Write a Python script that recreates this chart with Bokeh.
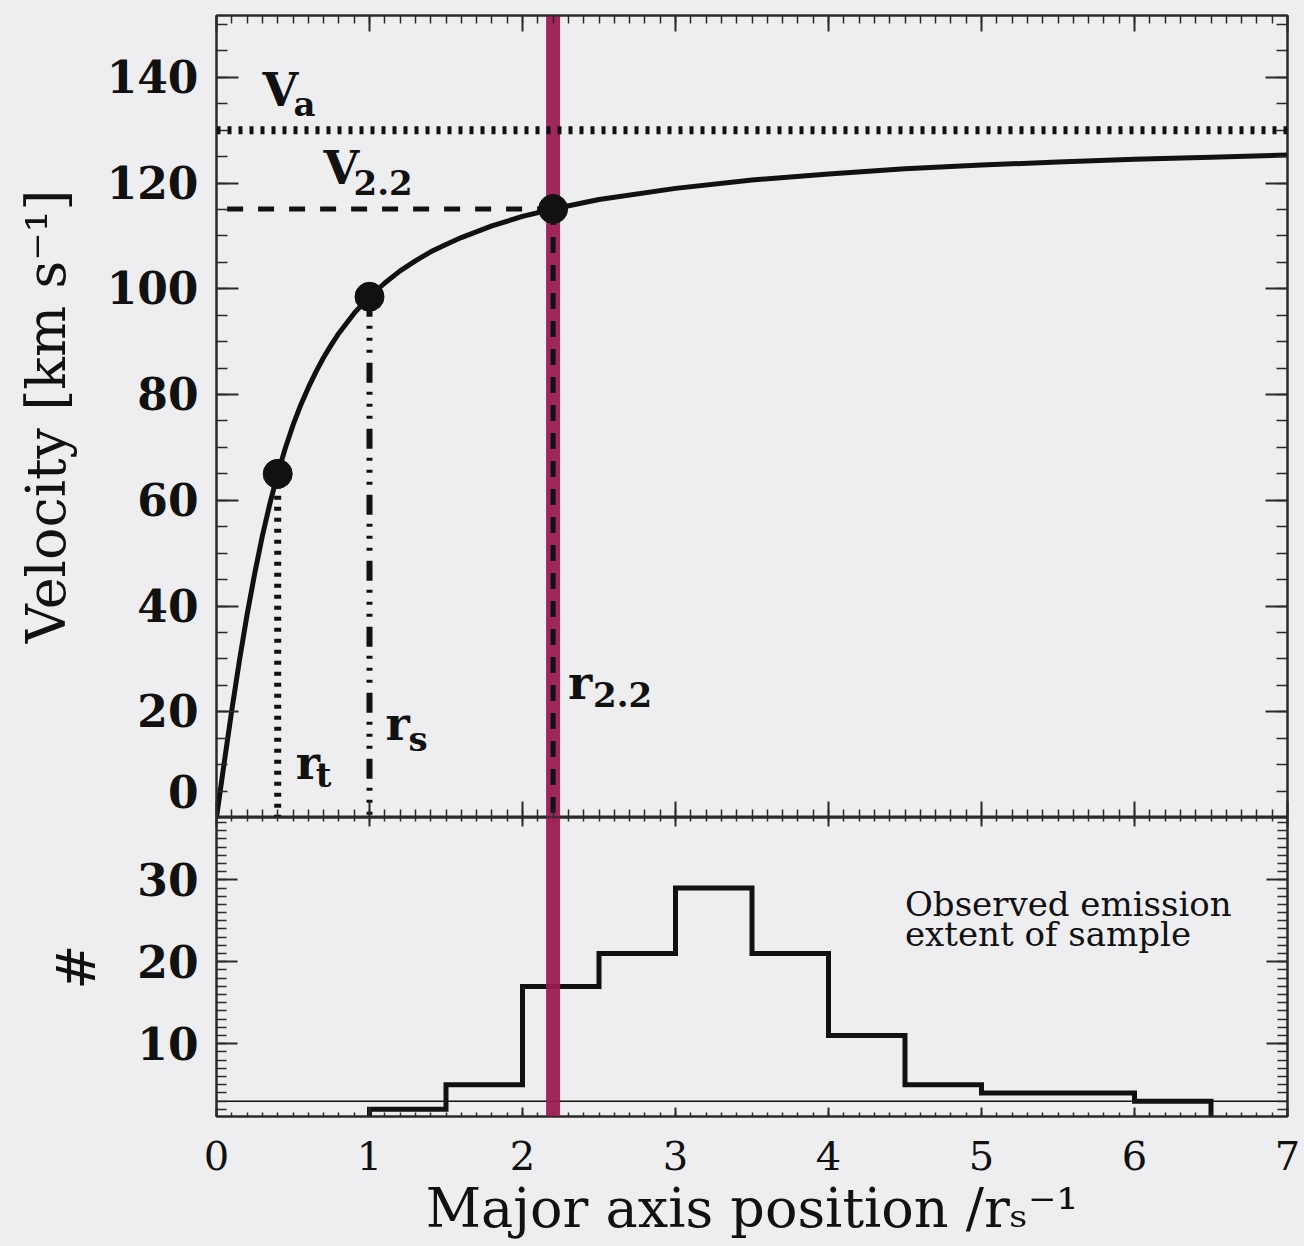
from bokeh.plotting import figure
from bokeh.models import Range1d, LinearAxis, SingleIntervalTicker, Span, Grid
from bokeh.layouts import column
from bokeh.embed import file_html
from bokeh.resources import INLINE
from bokeh.core.properties import value

# ---------------- data ----------------
# rotation curve, major axis position [r_s] vs velocity [km/s]
R_CURVE = [0.0, 0.05, 0.1, 0.15, 0.2, 0.25, 0.3, 0.35, 0.4, 0.45, 0.5, 0.55, 0.6,
           0.65, 0.7, 0.75, 0.8, 0.9, 1.0, 1.1, 1.2, 1.3, 1.4, 1.5, 1.6, 1.8, 2.0,
           2.2, 2.5, 3.0, 3.5, 4.0, 4.5, 5.0, 5.5, 6.0, 6.5, 7.0]
V_CURVE = [0.0, 10.3, 20.3, 29.7, 38.4, 46.2, 53.3, 59.5, 65.0, 69.9, 74.2, 78.0, 81.3,
           84.3, 87.0, 89.4, 91.6, 95.4, 98.5, 101.1, 103.4, 105.3, 107.0, 108.4, 109.7,
           111.9, 113.7, 115.1, 116.9, 119.0, 120.6, 121.7, 122.7, 123.4, 124.0, 124.5,
           124.9, 125.3]

# characteristic radii / velocities
R_T, V_T = 0.4, 65.0
R_S, V_S = 1.0, 98.5
R_22, V_22 = 2.2, 115.1
V_A = 130.0

# histogram of observed emission extent
BIN_EDGES = [1.0, 1.5, 2.0, 2.5, 3.0, 3.5, 4.0, 4.5, 5.0, 5.5, 6.0, 6.5]
COUNTS = [2, 5, 17, 21, 29, 21, 11, 5, 4, 4, 3]
HIST_LEVEL = 3

X_RANGE = (0, 7)
Y_RANGE_TOP = (0, 151.7)
Y_RANGE_BOT = (1.13, 37.6)

NOTE_LINES = ["Observed emission", "extent of sample"]
NOTE_X = [4.5, 4.5]
NOTE_Y = [27.1, 23.4]

# ---------------- styles ----------------
BG = "#eeeef1"
INK = "#111111"
AXC = "#2a2a2a"
BAND = "#9b1a52"
SERIF = "DejaVu Serif"


def add_axis(p, side, interval, minors, major_in, minor_in, labels=False,
             font_size="40px", bold=False, standoff=16, title=None,
             title_standoff=0, overrides=None):
    ax = LinearAxis(ticker=SingleIntervalTicker(interval=interval, num_minor_ticks=minors),
                    major_tick_in=major_in, major_tick_out=0,
                    minor_tick_in=minor_in, minor_tick_out=0,
                    axis_line_width=2, axis_line_color=AXC,
                    major_tick_line_width=2, major_tick_line_color=AXC,
                    minor_tick_line_width=1.5, minor_tick_line_color=AXC)
    if labels:
        ax.major_label_text_font = SERIF
        ax.major_label_text_font_size = font_size
        ax.major_label_text_font_style = "bold" if bold else "normal"
        ax.major_label_text_color = INK
        ax.major_label_standoff = standoff
        if overrides:
            ax.major_label_overrides = overrides
    else:
        ax.major_label_text_font_size = "0px"
        ax.major_label_text_color = None
        ax.major_label_standoff = 0
    if title is not None:
        ax.axis_label = title
        ax.axis_label_text_font = SERIF
        ax.axis_label_text_font_size = "54px"
        ax.axis_label_text_font_style = "normal"
        ax.axis_label_text_color = INK
        ax.axis_label_standoff = title_standoff
    p.add_layout(ax, side)
    return ax


def no_grid(p):
    p.center = [r for r in p.center if not isinstance(r, Grid)]


x_range = Range1d(*X_RANGE)

# ---------------- top panel ----------------
top = figure(frame_width=1071, frame_height=802, x_range=x_range,
             y_range=Range1d(*Y_RANGE_TOP), output_backend="svg", toolbar_location=None,
             x_axis_location=None, y_axis_location=None,
             min_border_left=216, min_border_right=17, min_border_top=15, min_border_bottom=0,
             background_fill_color=BG, border_fill_color=BG,
             outline_line_color=AXC, outline_line_width=2)
no_grid(top)

# the zero label is lifted above the panel boundary (two-line label, empty 1st line)
add_axis(top, "left", 20, 4, 22, 11, labels=True, font_size="44px", bold=True,
         standoff=18, title="Velocity [km s\u207b\u00b9]", title_standoff=26,
         overrides={0: "\u00a0\n0"})
add_axis(top, "right", 20, 4, 22, 11)
add_axis(top, "above", 1, 10, 16, 8)
add_axis(top, "below", 1, 10, 16, 8)

# r_2.2 band
top.add_layout(Span(location=R_22, dimension="height", line_color=BAND,
                    line_width=14, line_alpha=0.95, level="underlay"))

# reference lines
top.add_layout(Span(location=V_A, dimension="width", line_color=INK,
                    line_width=8, line_dash="4 7"))
top.line([R_22, X_RANGE[0]], [V_22, V_22], line_color=INK, line_width=5, line_dash="16 15")
top.line([R_T, R_T], [V_T, Y_RANGE_TOP[0]], line_color=INK, line_width=7, line_dash="4 7")
top.line([R_S, R_S], [V_S, Y_RANGE_TOP[0]], line_color=INK, line_width=6,
         line_dash="20 9 3 9 3 9 3 10")
top.line([R_22, R_22], [V_22, Y_RANGE_TOP[0]], line_color=INK, line_width=5, line_dash="16 12")

# curve and points
top.line(R_CURVE, V_CURVE, line_color=INK, line_width=5, line_join="round")
top.scatter([R_T, R_S, R_22], [V_T, V_S, V_22], size=29, marker="circle",
            fill_color=INK, line_color=INK)


# labels with subscripts (anchored to the lines they describe)
def lab(p, x, y, txt, dx, dy, size):
    p.text(x=[x], y=[y], text=[txt], x_offset=dx, y_offset=dy,
           text_font=value(SERIF), text_font_style="bold", text_font_size=size,
           text_color=INK, text_align="left", text_baseline="alphabetic")


MAIN, SUB = "46px", "34px"
lab(top, X_RANGE[0], V_A, "V", 46, -40, MAIN)
lab(top, X_RANGE[0], V_A, "a", 77, -26, SUB)
lab(top, X_RANGE[0], V_22, "V", 107, -41, MAIN)
lab(top, X_RANGE[0], V_22, "2.2", 137, -26, SUB)
lab(top, R_T, Y_RANGE_TOP[0], "r", 18, -55, MAIN)
lab(top, R_T, Y_RANGE_TOP[0], "t", 38, -43, SUB)
lab(top, R_S, Y_RANGE_TOP[0], "r", 16, -94, MAIN)
lab(top, R_S, Y_RANGE_TOP[0], "s", 39, -79, SUB)
lab(top, R_22, Y_RANGE_TOP[0], "r", 15, -135, MAIN)
lab(top, R_22, Y_RANGE_TOP[0], "2.2", 40, -123, SUB)

# ---------------- bottom panel ----------------
bot = figure(frame_width=1071, frame_height=299, x_range=x_range,
             y_range=Range1d(*Y_RANGE_BOT), output_backend="svg", toolbar_location=None,
             x_axis_location=None, y_axis_location=None,
             min_border_left=216, min_border_right=17, min_border_top=0, min_border_bottom=0,
             background_fill_color=BG, border_fill_color=BG,
             outline_line_color=AXC, outline_line_width=2)
no_grid(bot)

add_axis(bot, "left", 10, 10, 21, 10, labels=True, font_size="44px", bold=True,
         standoff=18, title="#", title_standoff=26)
add_axis(bot, "right", 10, 10, 21, 10)
add_axis(bot, "above", 1, 10, 9, 4)
add_axis(bot, "below", 1, 10, 9, 4, labels=True, font_size="40px", bold=False,
         standoff=24, title="Major axis position /r\u209b\u207b\u00b9", title_standoff=4)

bot.add_layout(Span(location=HIST_LEVEL, dimension="width", line_color=INK,
                    line_width=1.5, level="underlay"))

hx, hy = [BIN_EDGES[0]], [0]
for i, c in enumerate(COUNTS):
    hx += [BIN_EDGES[i], BIN_EDGES[i + 1]]
    hy += [c, c]
hx.append(BIN_EDGES[-1])
hy.append(0)
bot.line(hx, hy, line_color=INK, line_width=5, line_join="miter")

bot.add_layout(Span(location=R_22, dimension="height", line_color=BAND,
                    line_width=14, line_alpha=0.95))

bot.text(x=NOTE_X, y=NOTE_Y, text=NOTE_LINES,
         text_font=value(SERIF), text_font_size="34px", text_color=INK,
         text_align="left", text_baseline="alphabetic")

layout = column(top, bot, spacing=0)
html = file_html(layout, INLINE, title="Rotation curve")
style = "<style>html, body { background-color: %s !important; }</style>" % BG
html = html.replace("</head>", style + "\n</head>", 1)
open("out.html", "w").write(html)
